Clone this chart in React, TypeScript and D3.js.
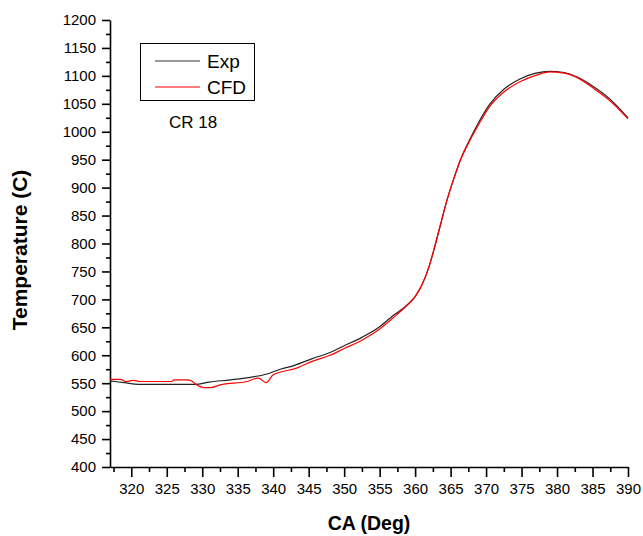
import React, { useEffect, useRef } from "react";
import * as d3 from "d3";

// crank angle (deg) and temperature (C)
const expCA = [317, 319, 321, 324, 327, 329, 331, 334, 337, 339, 341, 343, 345.5, 348, 350, 352.5, 355, 357, 358.5, 360, 361, 362, 362.5, 363.5, 364.5, 365.5, 366.5, 367.7, 369, 370.5, 372.5, 374.7, 377, 379, 381, 383, 385, 387.5, 390];
const expT = [554, 551, 548, 548, 548, 548, 552, 556, 561, 566, 575, 582, 594, 605, 617, 632, 651, 672, 686, 705, 727, 760, 782, 830, 878, 918, 953, 986, 1018, 1049, 1076, 1094, 1105, 1108, 1106, 1097, 1082, 1058, 1025];

const cfdCA = [317, 318.5, 319.3, 320.3, 321.2, 325.7, 326, 327.8, 328.5, 329.2, 330.2, 331.2, 332.5, 336.3, 337.9, 339, 340, 343.3, 345.5, 348, 350, 352.5, 355, 357, 358.5, 360, 361, 362, 362.5, 363.5, 364.5, 365.5, 366.5, 367.7, 369, 370.5, 372.5, 374.7, 377, 379, 381, 383, 385, 387.5, 390];
const cfdT = [557, 557, 553, 555, 553, 553, 556, 556, 554, 547, 542, 542, 547, 553, 559, 551, 565, 577, 589, 600, 612, 627, 647, 668, 685, 705, 727, 760, 782, 830, 878, 918, 953, 984, 1014, 1045, 1071, 1089, 1101, 1107, 1105, 1096, 1079, 1055, 1023];

const xTicks = d3.range(320, 391, 5);
const yTicks = d3.range(400, 1201, 50);

const FONT = "'Liberation Sans', Arial, sans-serif";

const App = () => {
  const ref = useRef<SVGSVGElement>(null);

  useEffect(() => {
    const svg = d3.select(ref.current);
    svg.selectAll("*").remove();

    const x = d3.scaleLinear().domain([317, 390]).range([110, 628]);
    const y = d3.scaleLinear().domain([400, 1200]).range([467, 20]);

    svg.append("rect").attr("width", 643).attr("height", 536).attr("fill", "#fff");

    // minor ticks
    svg.append("g")
      .attr("transform", "translate(0,467)")
      .call(d3.axisBottom(x).tickValues(d3.range(317.5, 390, 5)).tickSize(5).tickSizeOuter(0).tickFormat(() => ""))
      .call((g) => g.select(".domain").remove());
    svg.append("g")
      .attr("transform", "translate(110,0)")
      .call(d3.axisLeft(y).tickValues(d3.range(425, 1200, 50)).tickSize(4).tickSizeOuter(0).tickFormat(() => ""))
      .call((g) => g.select(".domain").remove());

    const xAxis = svg.append("g")
      .attr("transform", "translate(0,467)")
      .call(d3.axisBottom(x).tickValues(xTicks).tickSize(10).tickSizeOuter(0).tickPadding(6).tickFormat(d3.format("d")));
    xAxis.selectAll("text").style("font-size", "15px").style("font-family", FONT).attr("fill", "#000");

    const yAxis = svg.append("g")
      .attr("transform", "translate(110,0)")
      .call(d3.axisLeft(y).tickValues(yTicks).tickSize(8).tickSizeOuter(0).tickPadding(6).tickFormat(d3.format("d")));
    yAxis.selectAll("text").style("font-size", "15px").style("font-family", FONT).attr("fill", "#000");

    svg.selectAll(".domain, .tick line").attr("stroke", "#000").attr("stroke-width", 1.6);

    const line = d3.line<number>().curve(d3.curveMonotoneX);

    svg.append("path")
      .attr("d", line.x((d, i) => x(expCA[i])).y((d) => y(d))(expT))
      .attr("fill", "none").attr("stroke", "#222").attr("stroke-width", 1.2);
    svg.append("path")
      .attr("d", line.x((d, i) => x(cfdCA[i])).y((d) => y(d))(cfdT))
      .attr("fill", "none").attr("stroke", "#ff0000").attr("stroke-width", 1.2);

    // legend
    const lg = svg.append("g");
    lg.append("rect").attr("x", 140.5).attr("y", 43.5).attr("width", 114).attr("height", 57)
      .attr("fill", "none").attr("stroke", "#000").attr("stroke-width", 1);
    lg.append("line").attr("x1", 155).attr("x2", 200).attr("y1", 61).attr("y2", 61).attr("stroke", "#333").attr("stroke-width", 1.2);
    lg.append("line").attr("x1", 155).attr("x2", 200).attr("y1", 87).attr("y2", 87).attr("stroke", "#ff0000").attr("stroke-width", 1.2);
    lg.append("text").attr("x", 207).attr("y", 68).text("Exp").style("font-size", "19px").style("font-family", FONT);
    lg.append("text").attr("x", 207).attr("y", 94).text("CFD").style("font-size", "19px").style("font-family", FONT);

    svg.append("text").attr("x", 169).attr("y", 128).text("CR 18").style("font-size", "17px").style("font-family", FONT);

    svg.append("text").attr("x", 369).attr("y", 530).attr("text-anchor", "middle")
      .text("CA (Deg)").style("font-size", "19.5px").style("font-weight", "bold").style("font-family", FONT);
    svg.append("text").attr("transform", "translate(26.5,250) rotate(-90)").attr("text-anchor", "middle")
      .text("Temperature (C)").style("font-size", "21px").style("font-weight", "bold").style("font-family", FONT);
  }, []);

  return <svg ref={ref} width={643} height={536} style={{ display: "block", position: "absolute", left: 0, top: 0 }}></svg>;
};

export default App;
